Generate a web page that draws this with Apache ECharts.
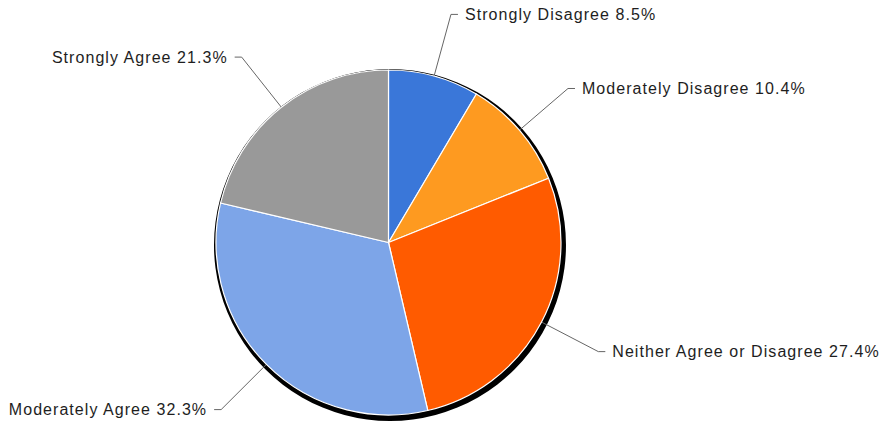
<!DOCTYPE html>
<html>
<head>
<meta charset="utf-8">
<script src="https://cdn.jsdelivr.net/npm/echarts@6/dist/echarts.min.js"></script>
<style>
  html, body { margin: 0; padding: 0; background: #ffffff; }
  #chart { width: 889px; height: 425px; }
  #chart text { letter-spacing: 1.05px; }
</style>
</head>
<body>
<div id="chart"></div>
<script>
const categories = ['Strongly Disagree', 'Moderately Disagree', 'Neither Agree or Disagree', 'Moderately Agree', 'Strongly Agree'];
const values = [8.5, 10.4, 27.4, 32.3, 21.3];
const colors = ['#3a77d9', '#fe9a20', '#ff5b00', '#7da5e8', '#999999'];

const data = categories.map((name, i) => ({
  name: name,
  value: values[i],
  itemStyle: { color: colors[i] }
}));

const chart = echarts.init(document.getElementById('chart'), null, { renderer: 'svg' });
chart.setOption({
  backgroundColor: '#ffffff',
  animation: false,
  series: [
    {
      type: 'pie',
      silent: true,
      z: 1,
      center: [390, 245],
      radius: 176,
      label: { show: false },
      labelLine: { show: false },
      itemStyle: { color: '#000000', borderWidth: 0 },
      data: [{ name: '', value: 1 }]
    },
    {
      type: 'pie',
      z: 2,
      center: [388.5, 242.5],
      radius: 172.5,
      startAngle: 90,
      clockwise: true,
      avoidLabelOverlap: false,
      itemStyle: { borderColor: '#ffffff', borderWidth: 1.2 },
      label: {
        show: true,
        position: 'outside',
        formatter: '{b} {c}%',
        fontFamily: 'Liberation Sans',
        fontSize: 16,
        color: '#1e1e1e',
        overflow: 'none',
        distanceToLabelLine: 7,
        padding: [3, 0, 0, 0]
      },
      labelLine: {
        show: true,
        length: 64,
        length2: 7,
        smooth: false,
        lineStyle: { color: '#666666', width: 1 }
      },
      emphasis: { disabled: true },
      data: data
    }
  ]
});
</script>
</body>
</html>
